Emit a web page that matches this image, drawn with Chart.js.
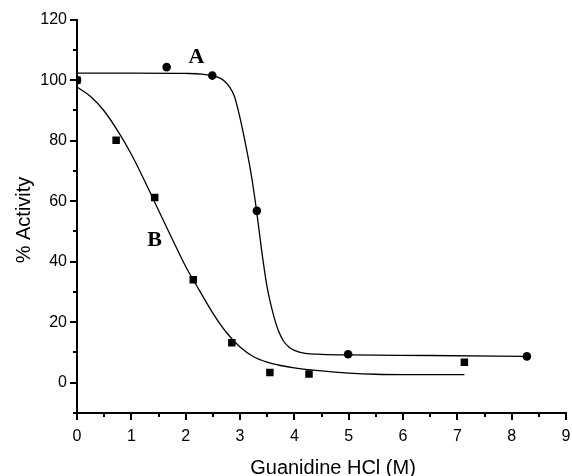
<!DOCTYPE html>
<html>
<head>
<meta charset="utf-8">
<script src="https://cdn.jsdelivr.net/npm/chart.js@4"></script>
<style>
  html, body { margin: 0; padding: 0; background: #fff; }
</style>
</head>
<body>
<canvas id="chart" width="572" height="476"></canvas>
<script>
// Measured points (x = Guanidine HCl in M, y = % activity)
const pointsAX = [0, 1.65, 2.49, 3.31, 4.99, 8.28];
const pointsAY = [100, 104.3, 101.5, 56.8, 9.4, 8.7];
const pointsBX = [0, 0.72, 1.43, 2.14, 2.85, 3.55, 4.27, 7.13];
const pointsBY = [100, 80.1, 61.2, 34, 13.2, 3.4, 2.9, 6.8];

// Fitted curves
const curveAX = [0, 1, 2, 2.3, 2.5, 2.6, 2.7, 2.8, 2.9, 3, 3.1, 3.2, 3.3, 3.4, 3.5, 3.6, 3.7, 3.8, 3.9, 4, 4.2, 4.5, 5, 6.5, 8.3];
const curveAY = [102.3, 102.3, 102.2, 102, 101.4, 100.9, 99.9, 97.9, 94.5, 87.5, 79, 69.5, 57.5, 43.5, 31.5, 23.5, 17.5, 13.8, 11.8, 10.7, 9.7, 9.4, 9.2, 9, 8.7];
const curveBX = [0, 0.25, 0.5, 0.75, 1, 1.25, 1.5, 1.75, 2, 2.25, 2.5, 2.75, 3, 3.25, 3.5, 3.75, 4, 4.5, 5, 5.5, 6, 7.13];
const curveBY = [97.7, 94.6, 89.8, 83.2, 75.5, 66.5, 57, 47.6, 38.4, 30.6, 23, 16.6, 11.8, 8.6, 6.8, 5.7, 4.9, 3.9, 3.2, 2.8, 2.7, 2.7];

// Axis setup
const xMin = 0, xMax = 9, xStep = 0.5;
const yMin = -10, yMax = 120, yStep = 10;

// Curve labels (data coordinates)
const curveLabels = [
  { text: "A", x: 2.2, y: 107.6 },
  { text: "B", x: 1.43, y: 47 },
];

const sansFont = "'Liberation Sans', Arial, sans-serif";

function zip(xs, ys) {
  return xs.map((x, i) => ({ x: x, y: ys[i] }));
}

// Tick marks drawn outside the axes, long for labelled ticks and short for the rest
const axisTicks = {
  id: "axisTicks",
  afterDraw(chart) {
    const { ctx, chartArea, scales } = chart;
    ctx.save();
    ctx.strokeStyle = "#000";
    ctx.lineWidth = 2;
    ctx.beginPath();
    scales.y.ticks.forEach(function (t) {
      const py = Math.round(scales.y.getPixelForValue(t.value));
      const len = t.value >= 0 && t.value % 20 === 0 ? 7 : 4;
      ctx.moveTo(chartArea.left, py);
      ctx.lineTo(chartArea.left - len, py);
    });
    scales.x.ticks.forEach(function (t) {
      const px = Math.round(scales.x.getPixelForValue(t.value));
      const len = Number.isInteger(t.value) ? 7 : 4;
      ctx.moveTo(px, chartArea.bottom);
      ctx.lineTo(px, chartArea.bottom + len);
    });
    ctx.stroke();

    // Curve labels
    ctx.fillStyle = "#000";
    ctx.font = "bold 22px 'Liberation Serif', 'Times New Roman', serif";
    ctx.textAlign = "center";
    ctx.textBaseline = "middle";
    curveLabels.forEach(function (l) {
      ctx.fillText(l.text, scales.x.getPixelForValue(l.x), scales.y.getPixelForValue(l.y));
    });

    // Axis titles
    ctx.font = "20px " + sansFont;
    ctx.textBaseline = "alphabetic";
    ctx.fillText("Guanidine HCl (M)", 333, 474);
    ctx.translate(30, 220);
    ctx.rotate(-Math.PI / 2);
    ctx.fillText("% Activity", 0, 0);
    ctx.restore();
  },
};

const ctx = document.getElementById("chart").getContext("2d");
const chart = new Chart(ctx, {
  type: "scatter",
  data: {
    datasets: [
      {
        label: "Curve A",
        data: zip(curveAX, curveAY),
        showLine: true,
        borderColor: "#000",
        borderWidth: 1.3,
        pointRadius: 0,
        cubicInterpolationMode: "monotone",
      },
      {
        label: "Curve B",
        data: zip(curveBX, curveBY),
        showLine: true,
        borderColor: "#000",
        borderWidth: 1.3,
        pointRadius: 0,
        cubicInterpolationMode: "monotone",
      },
      {
        label: "B",
        data: zip(pointsBX, pointsBY),
        pointStyle: "rect",
        pointRadius: 5.3,
        backgroundColor: "#000",
        borderColor: "#000",
        borderWidth: 0,
      },
      {
        label: "A",
        data: zip(pointsAX, pointsAY),
        pointStyle: "circle",
        pointRadius: 4.3,
        backgroundColor: "#000",
        borderColor: "#000",
        borderWidth: 0,
      },
    ],
  },
  options: {
    responsive: false,
    animation: false,
    layout: {
      padding: { top: 19, right: 6, left: 0, bottom: 0 },
    },
    plugins: {
      legend: { display: false },
      tooltip: { enabled: false },
    },
    scales: {
      x: {
        type: "linear",
        min: xMin,
        max: xMax,
        afterFit: function (scale) {
          scale.height = 63;
        },
        ticks: {
          stepSize: xStep,
          autoSkip: false,
          maxRotation: 0,
          padding: 0,
          color: "#000",
          font: { family: sansFont, size: 16 },
          callback: function (v) {
            return Number.isInteger(v) ? String(v) : "";
          },
        },
        // invisible tick marks only push the labels down
        grid: { drawOnChartArea: false, drawTicks: true, tickLength: 14, tickColor: "rgba(0,0,0,0)" },
        border: { display: true, color: "#000", width: 2 },
      },
      y: {
        type: "linear",
        min: yMin,
        max: yMax,
        afterFit: function (scale) {
          scale.width = 77;
        },
        ticks: {
          stepSize: yStep,
          autoSkip: false,
          padding: 10,
          color: "#000",
          font: { family: sansFont, size: 16 },
          callback: function (v) {
            return v >= 0 && v % 20 === 0 ? String(v) : "";
          },
        },
        grid: { drawOnChartArea: false, drawTicks: false },
        border: { display: true, color: "#000", width: 2 },
      },
    },
  },
  plugins: [axisTicks],
});
</script>
</body>
</html>
